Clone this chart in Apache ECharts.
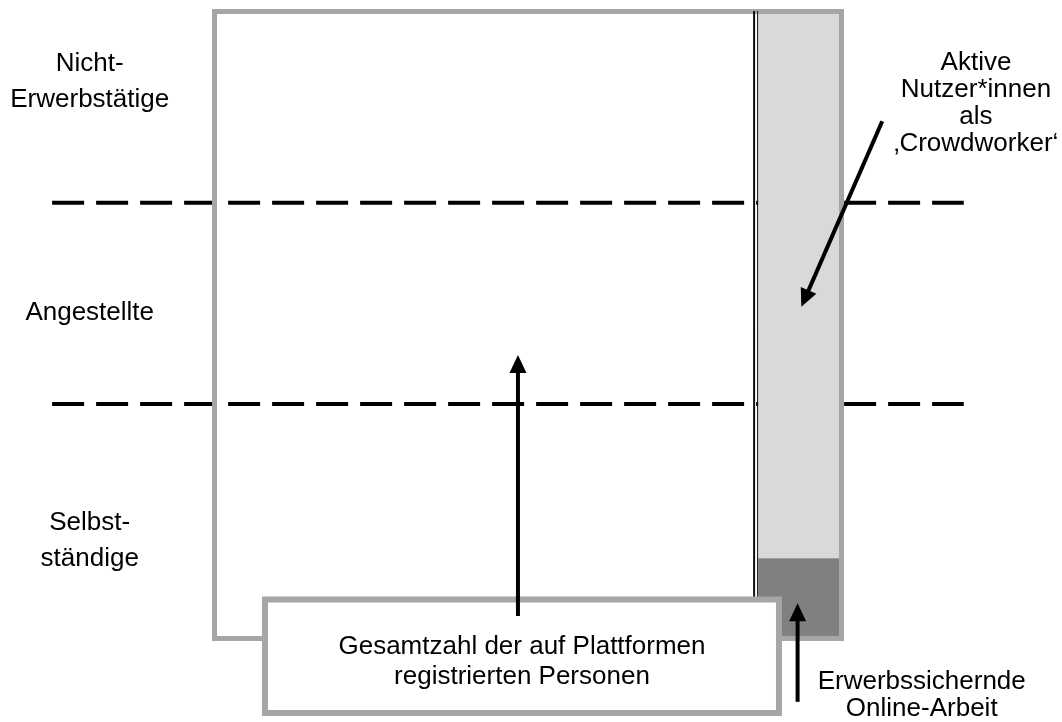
<!DOCTYPE html>
<html><head><meta charset="utf-8">
<script src="https://cdn.jsdelivr.net/npm/echarts@6/dist/echarts.min.js"></script>
<style>html,body{margin:0;padding:0;background:#fff}#c{width:1062px;height:722px}</style>
</head><body><div id="c"></div>
<script>
// Conceptual diagram data. x: share of registered persons (%), y: employment-status scale (%)
const registeredBox = [0, 100, 0, 100];          // xStart, xEnd, yStart, yEnd
const activeColumn = [86.7, 100];                // x-range of active crowdworkers
const incomeSecuringTop = 12.8;                  // y-top of income-securing online work
const groupBoundaries = [37.4, 69.5];            // borders between status groups
const boundaryExtent = [-25.9, 119.5];
const statusLabels = ['Nicht-\nErwerbstätige', 'Angestellte', 'Selbst-\nständige'];
const statusLabelY = [88.7, 51.9, 15.5];
const statusLabelX = -19.9;
const calloutTexts = ['Aktive\nNutzer*innen\nals\n‚Crowdworker‘', 'Erwerbssichernde\nOnline-Arbeit', 'Gesamtzahl der auf Plattformen\nregistrierten Personen'];
const calloutX = [121.45, 112.8, 49.04];
const calloutY = [85.3, -9.0, -3.75];
const labelBox = [8.05, 90.03, -11.9, 6.2];
const arrows = [[48.4, 3.6, 48.4, 45.2], [106.5, 82.5, 93.6, 52.9], [93.0, -10.1, 93.0, 5.6]];

const FONT = '26px "Liberation Sans", Arial, sans-serif';
const GRAY = '#a6a6a6';

function rectFrom(api, x0, x1, y0, y1) {
  const a = api.coord([x0, y1]), b = api.coord([x1, y0]);
  return { x: a[0], y: a[1], width: b[0] - a[0], height: b[1] - a[1] };
}

const chart = echarts.init(document.getElementById('c'), null, { renderer: 'canvas' });
chart.setOption({
  animation: false,
  backgroundColor: '#fff',
  grid: { left: 0, right: 0, top: 0, bottom: 0 },
  xAxis: { type: 'value', min: -34.21, max: 135.17, show: false },
  yAxis: { type: 'value', min: -13.32, max: 101.83, show: false },
  series: [
    { // dashed group boundaries
      type: 'custom', z: 1, silent: true,
      data: groupBoundaries.map(b => [boundaryExtent[0], boundaryExtent[1], b]),
      renderItem: (p, api) => {
        const a = api.coord([api.value(0), api.value(2)]), b = api.coord([api.value(1), api.value(2)]);
        return { type: 'line', shape: { x1: a[0], y1: a[1], x2: b[0], y2: b[1] },
          style: { stroke: '#000', lineWidth: 4, lineDash: [32, 12], lineCap: 'butt' } };
      }
    },
    { // active users column
      type: 'custom', z: 2, silent: true,
      data: [[activeColumn[0], activeColumn[1], incomeSecuringTop, registeredBox[3], 0],
             [activeColumn[0], activeColumn[1], registeredBox[2], incomeSecuringTop, 1]],
      renderItem: (p, api) => ({ type: 'rect',
        shape: rectFrom(api, api.value(0), api.value(1), api.value(2), api.value(3)),
        style: { fill: api.value(4) ? '#808080' : '#d9d9d9' } })
    },
    { // registered persons box
      type: 'custom', z: 3, silent: true,
      data: [registeredBox],
      renderItem: (p, api) => ({ type: 'rect',
        shape: rectFrom(api, api.value(0), api.value(1), api.value(2), api.value(3)),
        style: { fill: 'none', stroke: GRAY, lineWidth: 5 } })
    },
    { // double separator line
      type: 'custom', z: 4, silent: true,
      data: [[activeColumn[0], registeredBox[2], registeredBox[3]]],
      renderItem: (p, api) => {
        const a = api.coord([api.value(0), api.value(2)]), b = api.coord([api.value(0), api.value(1)]);
        return { type: 'group', children: [
          { type: 'line', shape: { x1: a[0] - 4, y1: a[1] - 0.5, x2: b[0] - 4, y2: b[1] }, style: { stroke: '#111', lineWidth: 2 } },
          { type: 'line', shape: { x1: a[0] - 0.5, y1: a[1] - 0.5, x2: b[0] - 0.5, y2: b[1] }, style: { stroke: '#111', lineWidth: 1 } }
        ] };
      }
    },
    { // label box
      type: 'custom', z: 5, silent: true,
      data: [labelBox],
      renderItem: (p, api) => ({ type: 'rect',
        shape: rectFrom(api, api.value(0), api.value(1), api.value(2), api.value(3)),
        style: { fill: '#fff', stroke: GRAY, lineWidth: 6 } })
    },
    { // arrows
      type: 'custom', z: 6, silent: true,
      data: arrows,
      renderItem: (p, api) => {
        const t = api.coord([api.value(0), api.value(1)]), h = api.coord([api.value(2), api.value(3)]);
        const dx = h[0] - t[0], dy = h[1] - t[1], len = Math.hypot(dx, dy);
        const ux = dx / len, uy = dy / len, px = -uy, py = ux;
        const hl = 18, hw = 8.5;
        const bx = h[0] - ux * hl, by = h[1] - uy * hl;
        return { type: 'group', children: [
          { type: 'line', shape: { x1: t[0], y1: t[1], x2: bx + ux * 2, y2: by + uy * 2 }, style: { stroke: '#000', lineWidth: 4 } },
          { type: 'polygon', shape: { points: [[h[0], h[1]], [bx + px * hw, by + py * hw], [bx - px * hw, by - py * hw]] }, style: { fill: '#000' } }
        ] };
      }
    },
    { // status labels
      type: 'custom', z: 7, silent: true,
      data: statusLabels.map((s, i) => [statusLabelX, statusLabelY[i], s]),
      renderItem: (p, api) => {
        const c = api.coord([api.value(0), api.value(1)]);
        return { type: 'text', style: { text: api.value(2), x: c[0], y: c[1], fill: '#000', font: FONT,
          align: 'center', verticalAlign: 'middle', lineHeight: 36 } };
      }
    },
    { // callout labels
      type: 'custom', z: 7, silent: true,
      data: calloutTexts.map((s, i) => [calloutX[i], calloutY[i], s]),
      renderItem: (p, api) => {
        const c = api.coord([api.value(0), api.value(1)]);
        return { type: 'text', style: { text: api.value(2), x: c[0], y: c[1], fill: '#000', font: FONT,
          align: 'center', verticalAlign: 'middle', lineHeight: p.dataIndex === 2 ? 30 : 27 } };
      }
    }
  ]
});
</script></body></html>
